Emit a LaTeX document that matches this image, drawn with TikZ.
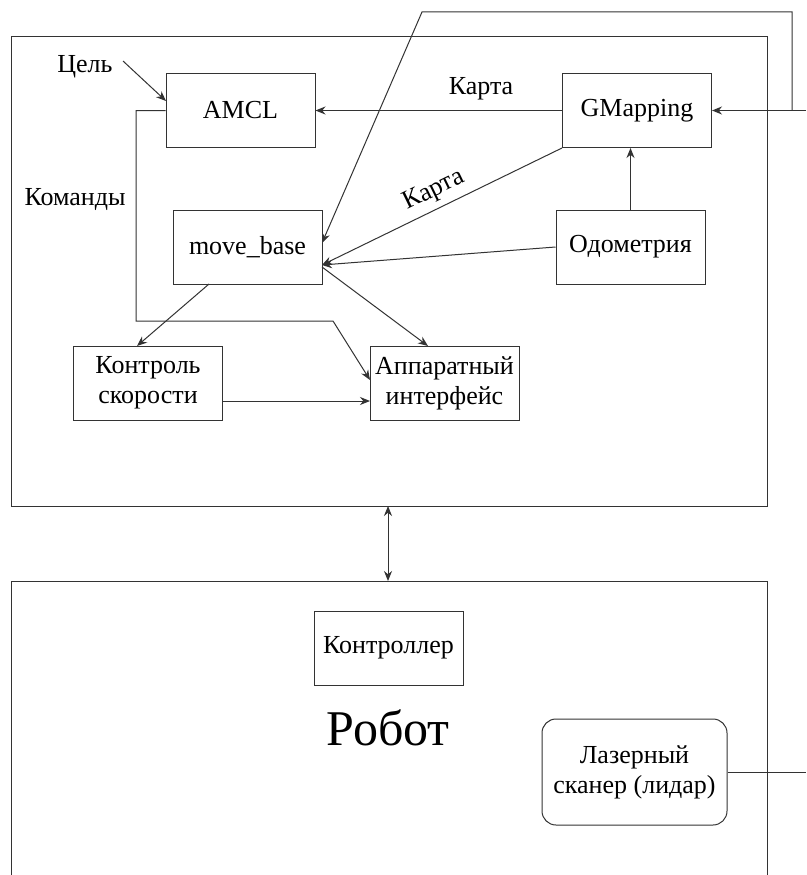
\documentclass[tikz,border=0pt]{standalone}
\usepackage{fontspec}
\setmainfont{Liberation Serif}
\usetikzlibrary{arrows.meta}
\begin{document}
\begin{tikzpicture}[x=1pt,y=-1pt,
  line width=1pt,
  every node/.style={font=\fontsize{26}{30}\selectfont, text=black},
  box/.style={draw=black!80, minimum width=149pt, minimum height=74pt, inner sep=0pt, align=center},
  rbox/.style={box, rounded corners=14pt},
  con/.style={draw=black!80, line width=1pt},
  arr/.style={con, -{Stealth[length=10pt,width=8pt]}},
  lbl/.style={inner sep=0pt}
]
\useasboundingbox (0,0) rectangle (806,875);
\clip (0,0) rectangle (806,875);
\fill[white] (0,0) rectangle (806,875);

% frames
\draw[draw=black!80] (11.5,36.5) rectangle (767,506);
\draw[draw=black!80] (11.5,890) -- (11.5,581) -- (767,581) -- (767,890);

% nodes
\node[box] (amcl) at (240.5,110.5) {AMCL};
\node[box] (gmap) at (637,110.5) {GMapping};
\node[box] (mb) at (247.5,247) {move\_base};
\node[box] (odo) at (630.5,247) {Одометрия};
\node[box] (ctl) at (148,383) {Контроль\\скорости};
\node[box] (hw) at (444.5,383) {Аппаратный\\интерфейс};
\node[box] (mc) at (388.5,648) {Контроллер};
\node[rbox, minimum width=185pt, minimum height=106pt] (lid) at (634.5,772) {Лазерный\\сканер (лидар)};
\node[lbl, font=\fontsize{50}{56}\selectfont] (rob) at (388,728) {Робот};
\node[lbl] (goal) at (85,67) {Цель};
\node[lbl] (cmd) at (75,199) {Команды};
\node[lbl] (map1) at (481,89) {Карта};

% free ends
\coordinate (gs) at (123,61);
\coordinate (mbin) at (322,265);
\coordinate (topA) at (792,12);
\coordinate (topB) at (422,12);
\coordinate (edgeG) at (806,110.5);
\coordinate (edgeL) at (806,772);

% connectors
\draw[arr] (gs) -- (166,101);
\draw[arr] (gmap.west) -- (amcl.east);
\draw[arr] (amcl.west) -- (136,110.5) -- (136,321) -- (333,321) -- (370,380);
\draw[arr] (gmap.south west) -- node[lbl, sloped, above=6pt, pos=0.5] {Карта} (mbin);
\draw[arr] (odo.west) -- (mbin);
\draw[arr] (odo.north) -- (gmap.south -| odo.north);
\draw[arr] (edgeG) -- (gmap.east);
\draw[arr] (792,110.5) -- (topA) -- (topB) -- (322,243);
\draw[arr] (209,284) -- (137,346);
\draw[arr] (322,267) -- (428,346);
\draw[arr] (223,401) -- (370,401);
\draw[con, {Stealth[length=10pt,width=8pt]}-{Stealth[length=10pt,width=8pt]}] (388,506) -- (388,581);
\draw[con] (lid.east) -- (edgeL);
\end{tikzpicture}
\end{document}
